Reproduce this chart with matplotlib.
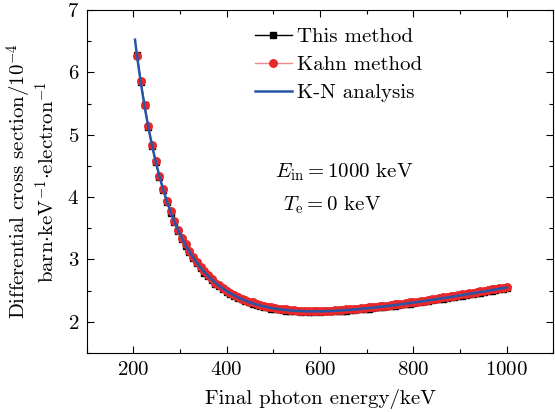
import matplotlib
matplotlib.use('Agg')
import matplotlib.pyplot as plt
from matplotlib.ticker import MultipleLocator

plt.rcParams['font.family'] = 'serif'
plt.rcParams['font.serif'] = ['cmr10']
plt.rcParams['mathtext.fontset'] = 'cm'
plt.rcParams['axes.formatter.use_mathtext'] = True
plt.rcParams['font.size'] = 15

# final photon energy (keV), bin centres of the simulated spectra
energy = [208, 216, 224, 232, 240, 248, 256, 264, 272, 280,
          288, 296, 304, 312, 320, 328, 336, 344, 352, 360,
          368, 376, 384, 392, 400, 408, 416, 424, 432, 440,
          448, 456, 464, 472, 480, 488, 496, 504, 512, 520,
          528, 536, 544, 552, 560, 568, 576, 584, 592, 600,
          608, 616, 624, 632, 640, 648, 656, 664, 672, 680,
          688, 696, 704, 712, 720, 728, 736, 744, 752, 760,
          768, 776, 784, 792, 800, 808, 816, 824, 832, 840,
          848, 856, 864, 872, 880, 888, 896, 904, 912, 920,
          928, 936, 944, 952, 960, 968, 976, 984, 992, 1000]

this_method = [6.28, 5.85, 5.47, 5.12, 4.82, 4.56, 4.32, 4.11, 3.92, 3.75,
               3.60, 3.46, 3.33, 3.22, 3.12, 3.02, 2.94, 2.86, 2.79, 2.73,
               2.67, 2.61, 2.57, 2.52, 2.48, 2.45, 2.41, 2.38, 2.36, 2.33,
               2.31, 2.29, 2.27, 2.25, 2.24, 2.23, 2.21, 2.20, 2.20, 2.19,
               2.18, 2.18, 2.17, 2.17, 2.16, 2.17, 2.16, 2.16, 2.17, 2.16,
               2.17, 2.17, 2.17, 2.17, 2.18, 2.18, 2.18, 2.19, 2.19, 2.20,
               2.20, 2.21, 2.21, 2.22, 2.23, 2.23, 2.24, 2.25, 2.25, 2.26,
               2.27, 2.28, 2.29, 2.29, 2.30, 2.31, 2.32, 2.33, 2.34, 2.35,
               2.36, 2.36, 2.37, 2.38, 2.39, 2.40, 2.41, 2.42, 2.43, 2.44,
               2.45, 2.46, 2.47, 2.48, 2.49, 2.50, 2.51, 2.52, 2.53, 2.54]

kahn_method = [6.27, 5.86, 5.47, 5.14, 4.84, 4.58, 4.34, 4.13, 3.94, 3.77,
               3.62, 3.48, 3.35, 3.24, 3.14, 3.04, 2.96, 2.88, 2.81, 2.75,
               2.69, 2.63, 2.59, 2.54, 2.50, 2.47, 2.43, 2.40, 2.37, 2.35,
               2.32, 2.31, 2.29, 2.27, 2.26, 2.24, 2.23, 2.22, 2.21, 2.20,
               2.20, 2.19, 2.19, 2.18, 2.18, 2.18, 2.17, 2.18, 2.17, 2.18,
               2.18, 2.18, 2.18, 2.19, 2.19, 2.19, 2.20, 2.20, 2.21, 2.21,
               2.22, 2.22, 2.23, 2.23, 2.24, 2.25, 2.25, 2.26, 2.27, 2.28,
               2.28, 2.29, 2.30, 2.31, 2.32, 2.32, 2.33, 2.34, 2.35, 2.36,
               2.37, 2.38, 2.39, 2.40, 2.41, 2.42, 2.43, 2.44, 2.45, 2.46,
               2.47, 2.48, 2.49, 2.50, 2.51, 2.52, 2.53, 2.54, 2.55, 2.56]

kn_energy = [203.5] + energy
kn_value = [6.524,
            6.259, 5.834, 5.458, 5.125, 4.830, 4.567, 4.331, 4.120, 3.931, 3.761,
            3.607, 3.468, 3.343, 3.229, 3.126, 3.033, 2.948, 2.870, 2.800, 2.736,
            2.678, 2.624, 2.576, 2.532, 2.492, 2.455, 2.422, 2.392, 2.364, 2.339,
            2.317, 2.296, 2.278, 2.262, 2.247, 2.234, 2.222, 2.212, 2.203, 2.195,
            2.189, 2.183, 2.179, 2.175, 2.172, 2.170, 2.169, 2.168, 2.168, 2.169,
            2.170, 2.172, 2.174, 2.177, 2.180, 2.184, 2.188, 2.192, 2.197, 2.202,
            2.208, 2.213, 2.219, 2.226, 2.232, 2.239, 2.246, 2.253, 2.260, 2.268,
            2.276, 2.284, 2.292, 2.300, 2.308, 2.317, 2.326, 2.334, 2.343, 2.352,
            2.362, 2.371, 2.380, 2.389, 2.399, 2.409, 2.418, 2.428, 2.438, 2.448,
            2.458, 2.468, 2.478, 2.488, 2.498, 2.508, 2.519, 2.529, 2.539, 2.550]

fig = plt.figure(figsize=(5.55, 4.12), dpi=100)
ax = fig.add_axes([0.1562, 0.1432, 0.8407, 0.8325])

ax.plot(energy, this_method, color='black', lw=1.0, marker='s', ms=4.4,
        mfc='black', mec='black', label='This method', zorder=2)
ax.plot(energy, kahn_method, color='#f08a8a', lw=1.0, marker='o', ms=5.4,
        mfc='#e8282b', mec='#e8282b', label='Kahn method', zorder=3)
ax.plot(kn_energy, kn_value, color='#2756a8', lw=1.8, label='K-N analysis', zorder=4)

ax.set_xlim(100, 1100)
ax.set_ylim(1.5, 7)
ax.xaxis.set_major_locator(MultipleLocator(200))
ax.xaxis.set_minor_locator(MultipleLocator(100))
ax.yaxis.set_major_locator(MultipleLocator(1))
ax.yaxis.set_minor_locator(MultipleLocator(0.5))
ax.tick_params(which='both', direction='in', top=True, right=True, width=0.8)
ax.tick_params(which='major', length=5, pad=5.5)
ax.tick_params(which='minor', length=3)
for s in ax.spines.values():
    s.set_linewidth(0.8)

ax.set_xlabel('Final photon energy/keV', labelpad=7.5)
ax.set_ylabel('Differential cross section/$10^{-4}$\n'
              'barn$\\cdot$keV$^{-1}$$\\cdot$electron$^{-1}$',
              linespacing=1.0, labelpad=6)

ax.text(0.403, 0.528, r'$E_{\rm in}=1000$ keV', transform=ax.transAxes, va='center')
ax.text(0.421, 0.431, r'$T_{\rm e}=0$ keV', transform=ax.transAxes, va='center')

ax.legend(loc='upper left', bbox_to_anchor=(0.36, 0.948), frameon=False,
          borderpad=0, borderaxespad=0, handlelength=1.8, handletextpad=0.25,
          labelspacing=0.45)

fig.savefig('out.png', dpi=100)
